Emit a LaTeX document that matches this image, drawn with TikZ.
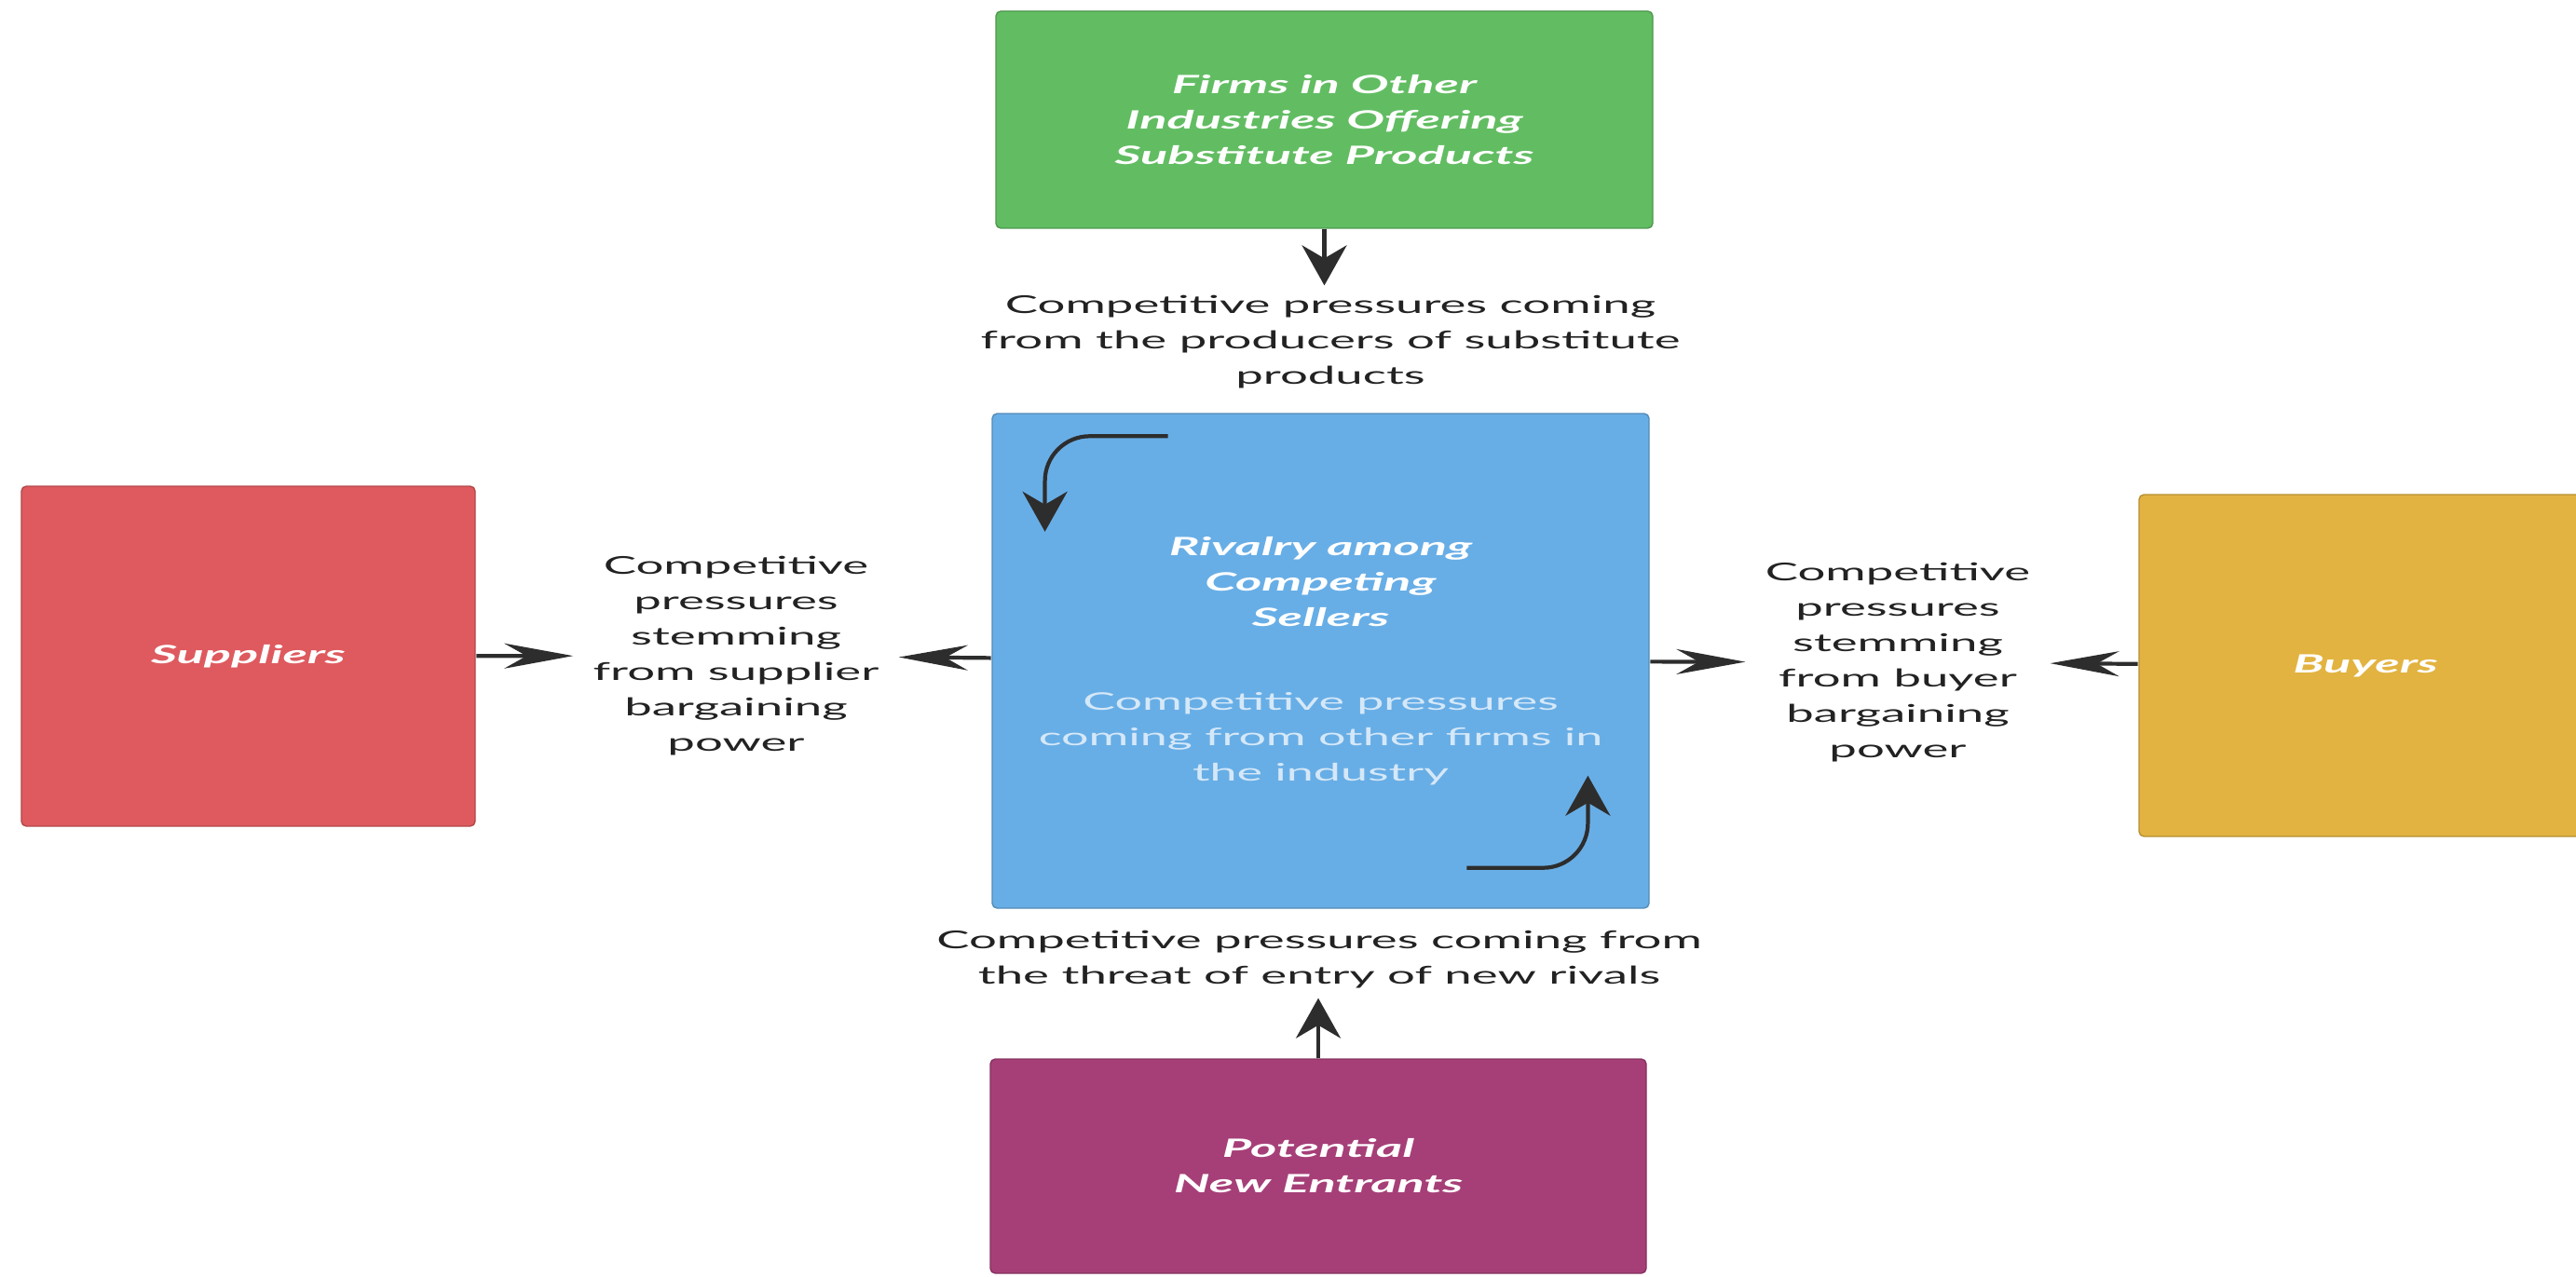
\documentclass[tikz,border=0pt]{standalone}
\usepackage{fontspec}
\setmainfont{Lato}
\usetikzlibrary{positioning,arrows.meta,calc}
\definecolor{subgreen}{HTML}{62BD62}
\definecolor{rivalblue}{HTML}{68AEE6}
\definecolor{supred}{HTML}{DE5A5E}
\definecolor{buyyellow}{HTML}{E2B340}
\definecolor{entrypurple}{HTML}{A63F78}
\definecolor{inkgray}{HTML}{222222}
\definecolor{arrowgray}{HTML}{2D2D2D}
% horizontal stretch of the text
\newcommand{\xs}{2.0}
\newcommand{\faded}[1]{\textcolor{white!72!rivalblue}{\fontsize{7.4}{10.8}\selectfont\mdseries\upshape #1}}

\tikzset{
  force/.style={draw=#1!80!black, line width=0.4pt, fill=#1, rounded corners=1.5pt,
    text=white, align=center, inner sep=0pt,
    font=\fontsize{7.7}{10.8}\selectfont\bfseries\itshape,
    xscale=\xs, transform shape},
  pressure/.style={text=inkgray, align=center, inner xsep=0.1cm, inner ysep=0.1cm,
    font=\fontsize{7.5}{10.8}\selectfont, xscale=\xs, transform shape},
  harrow/.style={-{Stealth[length=0.74cm, width=0.27cm]}, line width=1.2pt, draw=arrowgray},
  varrow/.style={-{Stealth[length=0.43cm, width=0.48cm]}, line width=1.2pt, draw=arrowgray},
}

\begin{document}
\begin{tikzpicture}
  \useasboundingbox (0,0) rectangle (27.65,13.7);
  \clip (0,0) rectangle (27.65,13.7);

  % the five forces
  \node[force=subgreen, minimum width=7.05cm/\xs, minimum height=2.33cm]
    (subst) at (14.215,12.415) {Firms in Other\\Industries Offering\\Substitute Products};
  \node[force=rivalblue, minimum width=7.05cm/\xs, minimum height=5.31cm]
    (rivalry) at (14.175,6.605) {Rivalry among\\Competing\\Sellers\\[0.52cm]
      \faded{Competitive pressures}\\\faded{coming from other firms in}\\\faded{the industry}};
  \node[force=supred, minimum width=4.87cm/\xs, minimum height=3.65cm]
    (suppliers) at (2.665,6.655) {Suppliers};
  \node[force=buyyellow, minimum width=4.86cm/\xs, minimum height=3.67cm]
    (buyers) at (25.39,6.555) {Buyers};
  \node[force=entrypurple, minimum width=7.04cm/\xs, minimum height=2.30cm]
    (entrants) at (14.15,1.18) {Potential\\New Entrants};

  % pressures
  \node[pressure] (substtext) at (14.28,10.03)
    {Competitive pressures coming\\from the producers of substitute\\products};
  \node[pressure] (entrytext) at (14.16,3.40)
    {Competitive pressures coming from\\the threat of entry of new rivals};
  \node[pressure] (suptext) at (7.90,6.66)
    {Competitive\\pressures\\stemming\\from supplier\\bargaining\\power};
  \node[pressure] (buytext) at (20.37,6.59)
    {Competitive\\pressures\\stemming\\from buyer\\bargaining\\power};

  % connectors
  \draw[varrow] (subst.south) -- (subst.south |- substtext.north);
  \draw[varrow] (entrants.north) -- (entrants.north |- entrytext.south);
  \draw[harrow] (suppliers) -- (suptext);
  \draw[harrow] (rivalry) -- (suptext);
  \draw[harrow] (rivalry) -- (buytext);
  \draw[harrow] (buyers) -- (buytext);

  % rivalry loop arrows
  \coordinate (loopA) at ($(rivalry.north west)+(1.90,-0.25)$);
  \coordinate (loopB) at ($(rivalry.north west)+(0.58,-1.275)$);
  \coordinate (loopC) at ($(rivalry.south east)+(-1.97,0.44)$);
  \coordinate (loopD) at ($(rivalry.south east)+(-0.67,1.43)$);
  \draw[varrow, rounded corners=0.48cm] (loopA) -| (loopB);
  \draw[varrow, rounded corners=0.48cm] (loopC) -| (loopD);
\end{tikzpicture}
\end{document}
